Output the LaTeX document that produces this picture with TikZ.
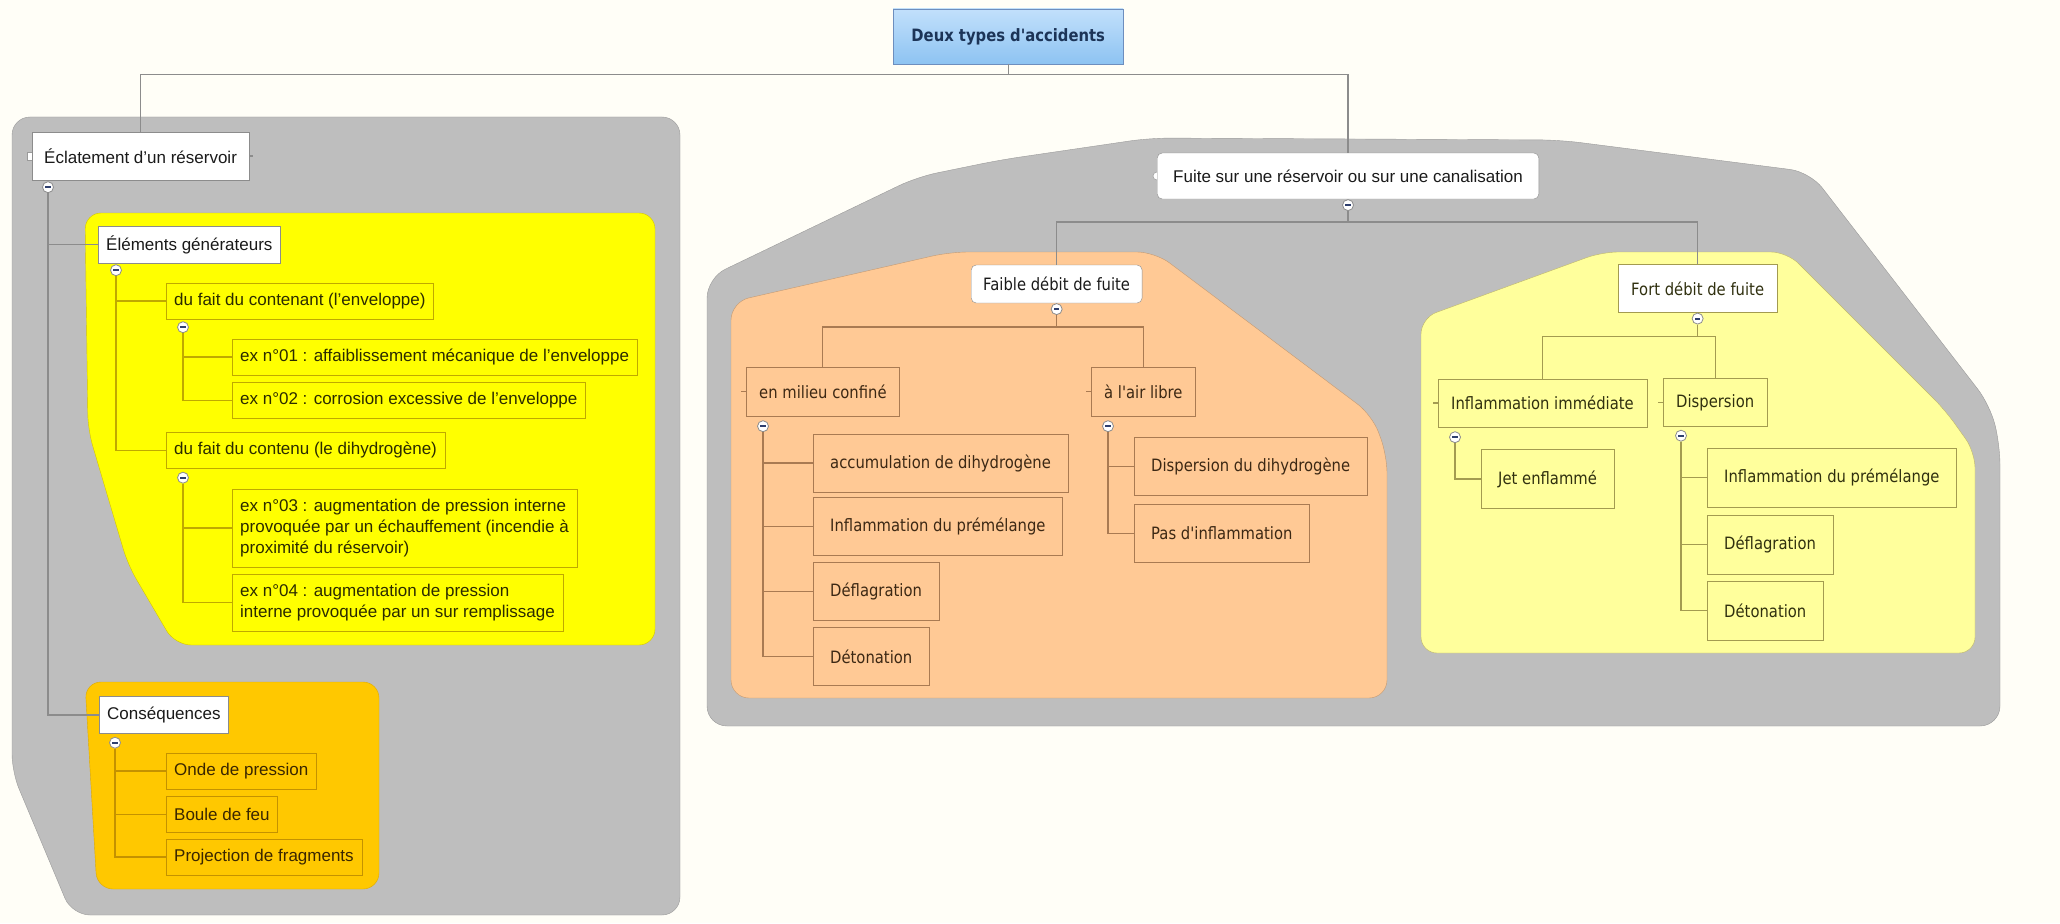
\documentclass[tikz,border=0pt]{standalone}
\usepackage{fontspec}
\setmainfont{Liberation Sans}
\newfontfamily\tahomish{DejaVu Sans}[FakeStretch=0.87]
\usetikzlibrary{positioning, calc, backgrounds}
\definecolor{cream}{HTML}{FFFEF7}
\definecolor{panelgray}{HTML}{BEBEBE}
\definecolor{panelline}{HTML}{9A9A9A}
\definecolor{brightyellow}{HTML}{FFFF00}
\definecolor{yelline}{HTML}{D4C400}
\definecolor{amber}{HTML}{FFC800}
\definecolor{ambline}{HTML}{DDAA00}
\definecolor{peach}{HTML}{FFC995}
\definecolor{peachline}{HTML}{C29A74}
\definecolor{lemon}{HTML}{FFFF9C}
\definecolor{lemonline}{HTML}{BDB56C}
\definecolor{rootA}{HTML}{C2E0FB}
\definecolor{rootB}{HTML}{8DC3F2}
\definecolor{rootline}{HTML}{6D8EBE}
\definecolor{roottext}{HTML}{1C3457}
\definecolor{boxline}{HTML}{8C8C8C}
\definecolor{ybox}{HTML}{BFA900}
\definecolor{abox}{HTML}{C49200}
\definecolor{pbox}{HTML}{A97A52}
\definecolor{lbox}{HTML}{A39B50}
\definecolor{inktext}{HTML}{1A1A1A}
\definecolor{ytext}{HTML}{2B2B00}
\definecolor{atext}{HTML}{3A2600}
\definecolor{ptext}{HTML}{3C2814}
\definecolor{ltext}{HTML}{30300F}
\definecolor{btnbar}{HTML}{2E3F6E}

\begin{document}
\begin{tikzpicture}[
  x=1pt, y=-1pt,
  every node/.style={
    font=\fontsize{17}{21}\selectfont,
    inner ysep=0pt,
    anchor=west,
    text=inktext,
  },
  root/.style={draw=rootline, top color=rootA, bottom color=rootB, text=roottext,
    font=\tahomish\bfseries\fontsize{17}{21}\selectfont, minimum width=230, minimum height=55},
  topic/.style={draw=boxline, fill=white, inner xsep=12, minimum height=48},
  topicR/.style={draw=boxline, fill=white, rounded corners=5, inner xsep=16, minimum height=46},
  sub/.style={draw=boxline, fill=white, inner xsep=8, minimum height=37},
  leafY/.style={draw=ybox, fill=brightyellow, text=ytext, inner xsep=8, minimum height=36},
  leafA/.style={draw=abox, fill=amber, text=atext, inner xsep=8, minimum height=36},
  midP/.style={draw=pbox, fill=peach, text=ptext, font=\tahomish\fontsize{17}{21}\selectfont,
    inner xsep=13, minimum height=49},
  leafP/.style={midP, inner xsep=17, minimum height=58},
  midL/.style={draw=lbox, fill=lemon, text=ltext, font=\tahomish\fontsize{17}{21}\selectfont,
    inner xsep=13, minimum height=48},
  leafL/.style={midL, inner xsep=17, minimum height=59},
  btn/.style={circle, anchor=center, draw=boxline, fill=white, minimum size=11, inner sep=0pt,
    line width=0.8pt,
    path picture={\draw[btnbar, line width=1.8pt]
      ([xshift=-2.6pt]path picture bounding box.center) --
      ([xshift=2.6pt]path picture bounding box.center);}},
  link/.style={draw=boxline, line width=1.1pt},
  linkY/.style={draw=ybox, line width=1.1pt},
  linkA/.style={draw=abox, line width=1.1pt},
  linkP/.style={draw=pbox, line width=1.1pt},
  linkL/.style={draw=lbox, line width=1.1pt},
]
\useasboundingbox (0,0) rectangle (2060,923);

% root
\node[root] (root) at (893,36.5) {Deux types d'accidents};

% left branch
\node[topic] (ecl) at (32,156) {Éclatement d'un réservoir};
\node[sub] (elem) at (98,244.5) {Éléments générateurs};
\node[leafY] (cont) at (166,301) {du fait du contenant (l'enveloppe)};
\node[leafY] (ex01) at (232,357) {ex n°01 : affaiblissement mécanique de l'enveloppe};
\node[leafY] (ex02) at (232,400.5) {ex n°02 : corrosion excessive de l'enveloppe};
\node[leafY] (contenu) at (166,450.5) {du fait du contenu (le dihydrogène)};
\node[leafY, align=left, minimum height=78] (ex03) at (232,528)
  {ex n°03 : augmentation de pression interne\\provoquée par un échauffement (incendie à\\proximité du réservoir)};
\node[leafY, align=left, minimum height=57] (ex04) at (232,602.5)
  {ex n°04 : augmentation de pression\\interne provoquée par un sur remplissage};
\node[sub] (cons) at (99,715) {Conséquences};
\node[leafA] (onde) at (166,771) {Onde de pression};
\node[leafA] (boule) at (166,814.5) {Boule de feu};
\node[leafA] (proj) at (166,857) {Projection de fragments};

% right branch
\node[topicR] (fuite) at (1157,176) {Fuite sur une réservoir ou sur une canalisation};
\node[topicR, font=\tahomish\fontsize{17}{21}\selectfont, inner xsep=12, minimum height=38] (faible) at (971,284) {Faible débit de fuite};
\node[midL, fill=white] (fort) at (1618,288.5) {Fort débit de fuite};
\node[midP] (milieu) at (746,391.5) {en milieu confiné};
\node[midP] (air) at (1091,391.5) {à l'air libre};
\node[leafP] (accu) at (813,463) {accumulation de dihydrogène};
\node[leafP] (inflA) at (813,526.5) {Inflammation du prémélange};
\node[leafP] (deflA) at (813,591.5) {Déflagration};
\node[leafP] (detA) at (813,656.5) {Détonation};
\node[leafP] (dispA) at (1134,466.5) {Dispersion du dihydrogène};
\node[leafP] (pas) at (1134,533.5) {Pas d'inflammation};
\node[midL] (inflimm) at (1438,403) {Inflammation immédiate};
\node[midL] (disp) at (1663,402.5) {Dispersion};
\node[leafL] (jet) at (1481,479) {Jet enflammé};
\node[leafL] (inflB) at (1707,477.5) {Inflammation du prémélange};
\node[leafL] (deflB) at (1707,544.5) {Déflagration};
\node[leafL] (detB) at (1707,610.5) {Détonation};

% collapse buttons
\node[btn] (bEcl) at ($(ecl.south west)+(16,7)$) {};
\node[btn] (bElem) at ($(elem.south west)+(18,7)$) {};
\node[btn] (bCont) at ($(cont.south west)+(17,8)$) {};
\node[btn] (bContenu) at ($(contenu.south west)+(17,9)$) {};
\node[btn] (bCons) at ($(cons.south west)+(16,9)$) {};
\node[btn, below=0pt of fuite] (bFuite) {};
\node[btn, below=0pt of faible] (bFaible) {};
\node[btn, below=0pt of fort] (bFort) {};
\node[btn] (bMilieu) at ($(milieu.south west)+(17,10)$) {};
\node[btn] (bAir) at ($(air.south west)+(17,10)$) {};
\node[btn] (bImm) at ($(inflimm.south west)+(17,10)$) {};
\node[btn] (bDisp) at ($(disp.south west)+(18,9)$) {};

% connectors
\draw[link] (root.south) -- ++(0,10) -| (ecl.north);
\draw[link] (root.south) -- ++(0,10) -| (fuite.north);
\foreach \n in {elem, cons} \draw[link] (bEcl.south) |- (\n.west);
\foreach \n in {cont, contenu} \draw[linkY] (bElem.south) |- (\n.west);
\foreach \n in {ex01, ex02} \draw[linkY] (bCont.south) |- (\n.west);
\foreach \n in {ex03, ex04} \draw[linkY] (bContenu.south) |- (\n.west);
\foreach \n in {onde, boule, proj} \draw[linkA] (bCons.south) |- (\n.west);
\draw[link] (bFuite.south) -- ++(0,11) -| (faible.north);
\draw[link] (bFuite.south) -- ++(0,11) -| (fort.north);
\draw[linkP] (bFaible.south) -- ++(0,12) -| (milieu.north);
\draw[linkP] (bFaible.south) -- ++(0,12) -| (air.north);
\draw[linkL] (bFort.south) -- ++(0,12) -| (inflimm.north);
\draw[linkL] (bFort.south) -- ++(0,12) -| (disp.north);
\foreach \n in {accu, inflA, deflA, detA} \draw[linkP] (bMilieu.south) |- (\n.west);
\foreach \n in {dispA, pas} \draw[linkP] (bAir.south) |- (\n.west);
\draw[linkL] (bImm.south) |- (jet.west);
\foreach \n in {inflB, deflB, detB} \draw[linkL] (bDisp.south) |- (\n.west);
\foreach \n in {milieu, air} \draw[linkP] (\n.west) -- ++(-5,0);
\foreach \n in {inflimm, disp} \draw[linkL] (\n.west) -- ++(-5,0);

\begin{scope}[on background layer]
% page and panels
\fill[cream] (0,0) rectangle (2060,923);
\filldraw[fill=panelgray, draw=panelline, rounded corners=18]
  (12,117) -- (680,117) -- (680,915) -- (72,915) -- (12,772) -- cycle;
\filldraw[fill=brightyellow, draw=yelline, rounded corners=16]
  (85,213) -- (655,213) -- (655,645) -- (175,645) -- (128,565) -- (88,430) -- cycle;
\filldraw[fill=amber, draw=ambline, rounded corners=16]
  (85,682) -- (379,682) -- (379,889) -- (97,889) -- cycle;
\filldraw[fill=panelgray, draw=panelline, rounded corners=20]
  (707,726) -- (707,278) -- (917,177) -- (1000,160) -- (1150,138) -- (1560,140)
  -- (1810,172) -- (1990,405) -- (2000,445) -- (2000,726) -- cycle;
\filldraw[fill=peach, draw=peachline, rounded corners=18]
  (731,698) -- (731,302) -- (950,252) -- (1155,252) -- (1372,415) -- (1387,455)
  -- (1387,698) -- cycle;
\filldraw[fill=lemon, draw=lemonline, rounded corners=16]
  (1421,653) -- (1421,318) -- (1602,252) -- (1787,252) -- (1945,410) -- (1975,452)
  -- (1975,653) -- cycle;
% little handles
\filldraw[fill=white, draw=panelline, line width=0.5pt]
  ($(ecl.west)+(-5,-4)$) rectangle ($(ecl.west)+(1,4)$);
\filldraw[fill=white, draw=panelline, line width=0.5pt] (fuite.west) circle (4);
\draw[link] (ecl.east) -- ++(4,0);
\end{scope}

\end{tikzpicture}
\end{document}
